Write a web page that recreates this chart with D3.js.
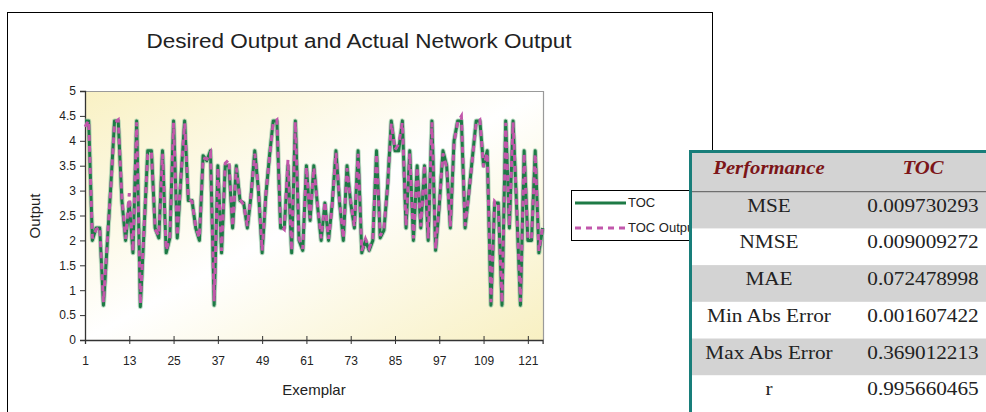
<!DOCTYPE html>
<html><head><meta charset="utf-8">
<script src="https://cdn.jsdelivr.net/npm/d3@7"></script>
<style>
html,body{margin:0;padding:0;background:#fff;}
svg{display:block;}
</style></head>
<body>
<svg id="chart" width="986" height="412"></svg>
<script>
// ---------- data ----------
const chartTitle = "Desired Output and Actual Network Output";
const xTitle = "Exemplar";
const yTitle = "Output";
const seriesNames = ["TOC", "TOC Output"];
const desired = [4.4,4.4,2.0,2.25,2.25,0.7,1.9,3.1,4.4,4.4, 2.8,2.0,2.75,1.75,4.4,0.67,2.2,3.8,3.8,2.25,
 2.05,3.8,1.75,2.05,4.4,2.05,3.25,4.4,2.8,2.8, 2.25,2.0,3.7,3.6,3.8,0.7,3.5,1.75,3.5,3.5,
 2.25,3.5,2.8,2.75,2.25,2.9,3.8,3.0,1.75,2.9, 3.7,4.4,4.4,2.25,2.25,3.5,1.75,4.4,2.0,1.8,
 3.5,2.4,3.5,2.7,2.0,2.75,2.0,2.75,3.8,2.75, 2.0,3.5,2.75,2.25,3.8,1.75,2.0,1.8,2.0,3.8,
 2.05,2.2,3.1,4.4,3.8,3.8,4.4,2.25,3.8,2.0, 3.5,2.25,3.5,2.0,4.4,1.8,2.7,3.8,3.5,2.25,
 4.0,4.4,4.4,2.25,2.95,3.68,4.4,4.4,3.5,3.8, 0.7,2.75,2.75,0.7,4.4,2.25,4.4,2.6,0.7,3.8,
 2.0,2.0,3.8,1.75,2.25];
const networkOutput = [4.28,4.41,2.04,2.22,2.27,0.76,1.95,3.05,4.36,4.42, 2.86,2.03,2.95,1.78,4.37,0.72,2.25,3.72,3.78,2.22,
 2.1,3.74,1.8,2.07,4.36,2.09,3.3,4.35,2.84,2.78, 2.27,2.05,3.66,3.63,3.76,0.78,3.46,1.79,3.55,3.62,
 2.28,3.46,2.83,2.71,2.29,2.93,3.74,3.04,1.79,2.94, 3.66,4.36,4.42,2.29,2.22,3.62,1.79,4.38,2.04,1.83,
 3.47,2.44,3.46,2.72,2.04,2.78,2.03,2.71,3.76,2.79, 2.04,3.45,2.79,2.28,3.74,1.79,2.03,1.84,2.05,3.74,
 2.09,2.24,3.08,4.35,3.82,3.93,4.36,2.29,3.75,2.04, 3.47,2.28,3.52,2.04,4.37,1.83,2.73,3.75,3.46,2.28,
 3.96,4.38,4.5,2.29,2.92,3.64,4.36,4.42,3.47,3.76, 0.76,2.79,2.72,0.75,4.36,2.29,4.37,2.63,0.77,3.75,
 2.04,2.03,3.74,1.79,2.27];
const xTickLabels = [1,13,25,37,49,61,73,85,97,109,121];
const yTickValues = [0,0.5,1,1.5,2,2.5,3,3.5,4,4.5,5];
const yTickLabels = ["0","0.5","1","1.5","2","2.5","3","3.5","4","4.5","5"];
const perfHeaders = ["Performance", "TOC"];
const perfMetrics = ["MSE","NMSE","MAE","Min Abs Error","Max Abs Error","r"];
const perfValues = ["0.009730293","0.009009272","0.072478998","0.001607422","0.369012213","0.995660465"];

// ---------- layout ----------
const svg = d3.select("#chart");
const P = {left:85, right:543, top:91, bottom:340};
const n = desired.length;
const x = d3.scaleLinear().domain([1, n]).range([P.left, P.right - 0.4]);
const y = d3.scaleLinear().domain([0, 5]).range([P.bottom, P.top]);
const sans = "'Liberation Sans', Arial, sans-serif";
const serif = "'Liberation Serif', 'Times New Roman', serif";

// outer chart frame
svg.append("rect").attr("x",7.5).attr("y",12.5).attr("width",705).attr("height",420)
  .attr("fill","#fff").attr("stroke","#000").attr("stroke-width",1);

// title
svg.append("text").attr("x",359).attr("y",48).attr("text-anchor","middle")
  .attr("font-family",sans).attr("font-size",19.5).attr("fill","#222")
  .attr("textLength",425).attr("lengthAdjust","spacingAndGlyphs").text(chartTitle);

// plot background gradient
const defs = svg.append("defs");
const g = defs.append("linearGradient").attr("id","bg").attr("x1","0").attr("y1","0").attr("x2","1").attr("y2","1");
g.append("stop").attr("offset","0").attr("stop-color","#f9f1c4");
g.append("stop").attr("offset","0.5").attr("stop-color","#ffffff");
g.append("stop").attr("offset","1").attr("stop-color","#f8f0c2");
svg.append("rect").attr("x",P.left).attr("y",P.top).attr("width",P.right-P.left).attr("height",P.bottom-P.top)
  .attr("fill","url(#bg)");
svg.append("path").attr("d",`M${P.left},${P.top+0.5}H${P.right+0.5}V${P.bottom}`)
  .attr("fill","none").attr("stroke","#9a9a9a").attr("stroke-width",1.2);

// y axis
const yAxis = d3.axisLeft(y).tickValues(yTickValues).tickSize(5).tickFormat((d,i)=>yTickLabels[i]);
const ya = svg.append("g").attr("transform",`translate(${P.left},0)`).call(yAxis);
ya.select(".domain").attr("stroke","#333").attr("stroke-width",1.3);
ya.selectAll(".tick line").attr("stroke","#333");
ya.selectAll(".tick text").attr("font-family",sans).attr("font-size",12).attr("fill","#222").attr("x",-9);

// x axis
const xAxis = d3.axisBottom(x).tickValues(xTickLabels).tickSize(4).tickFormat(d=>d);
const xa = svg.append("g").attr("transform",`translate(0,${P.bottom})`).call(xAxis);
xa.select(".domain").attr("stroke","#333").attr("stroke-width",1.3);
xa.selectAll(".tick line").attr("stroke","#333").attr("y1",-4);
xa.selectAll(".tick text").attr("font-family",sans).attr("font-size",12).attr("fill","#222").attr("y",16);

// axis titles
svg.append("text").attr("x",314).attr("y",395).attr("text-anchor","middle")
  .attr("font-family",sans).attr("font-size",15).attr("fill","#222").text(xTitle);
svg.append("text").attr("transform","translate(40,216) rotate(-90)").attr("text-anchor","middle")
  .attr("font-family",sans).attr("font-size",15).attr("fill","#222").text(yTitle);

// lines
const line = d3.line().x((d,i)=>x(i+1)).y(d=>y(d));
svg.append("path").datum(desired).attr("d",line).attr("fill","none")
  .attr("stroke","#8fc2a0").attr("stroke-width",5).attr("stroke-linejoin","round").attr("opacity",0.6);
svg.append("path").datum(desired).attr("d",line).attr("fill","none")
  .attr("stroke","#1d7a45").attr("stroke-width",3).attr("stroke-linejoin","round");
svg.append("path").datum(networkOutput).attr("d",line).attr("fill","none")
  .attr("stroke","#c257ab").attr("stroke-width",3).attr("stroke-dasharray","6,5");

// legend
svg.append("rect").attr("x",571.5).attr("y",190.5).attr("width",140).attr("height",50)
  .attr("fill","#fff").attr("stroke","#000").attr("stroke-width",1);
svg.append("line").attr("x1",575).attr("x2",626).attr("y1",203).attr("y2",203)
  .attr("stroke","#1d7a45").attr("stroke-width",3);
svg.append("line").attr("x1",575).attr("x2",626).attr("y1",228).attr("y2",228)
  .attr("stroke","#c257ab").attr("stroke-width",3).attr("stroke-dasharray","6,5");
svg.append("text").attr("x",628).attr("y",207).attr("font-family",sans).attr("font-size",13).attr("fill","#222").text(seriesNames[0]);
svg.append("text").attr("x",628).attr("y",232).attr("font-family",sans).attr("font-size",13).attr("fill","#222").text(seriesNames[1]);

// performance table
const T = {left:689, right:986, top:150, headBottom:191.7, rowH:36.7};
const tbl = svg.append("g");
tbl.append("rect").attr("x",T.left).attr("y",T.top).attr("width",T.right-T.left).attr("height",412-T.top).attr("fill","#fff");
tbl.append("rect").attr("x",T.left).attr("y",T.top).attr("width",T.right-T.left).attr("height",T.headBottom-T.top).attr("fill","#d3d3d3");
perfMetrics.forEach((m,i)=>{
  const y0 = T.headBottom + i*T.rowH;
  if(i%2===0) tbl.append("rect").attr("x",T.left).attr("y",y0).attr("width",T.right-T.left).attr("height",T.rowH).attr("fill","#d3d3d3");
});
tbl.append("line").attr("x1",T.left).attr("x2",T.right).attr("y1",T.headBottom).attr("y2",T.headBottom).attr("stroke","#555").attr("stroke-width",1);
tbl.append("path").attr("d",`M${T.left+1.5},412V${T.top+1.5}H${T.right}`).attr("fill","none").attr("stroke","#187e7a").attr("stroke-width",3);
const colX = [769, 923];
perfHeaders.forEach((h,j)=>{
  tbl.append("text").attr("transform",`translate(${colX[j]},173.5) scale(1.15,1)`).attr("text-anchor","middle")
    .attr("font-family",serif).attr("font-size",18).attr("font-weight","bold").attr("font-style","italic")
    .attr("fill","#7c1518").text(h);
});
perfMetrics.forEach((m,i)=>{
  const base = 211.7 + i*T.rowH;
  tbl.append("text").attr("transform",`translate(${colX[0]},${base}) scale(1.18,1)`).attr("text-anchor","middle")
    .attr("font-family",serif).attr("font-size",18).attr("fill","#222").text(m);
  tbl.append("text").attr("transform",`translate(${colX[1]},${base}) scale(1.18,1)`).attr("text-anchor","middle")
    .attr("font-family",serif).attr("font-size",18).attr("fill","#222").text(perfValues[i]);
});
</script>
</body></html>
